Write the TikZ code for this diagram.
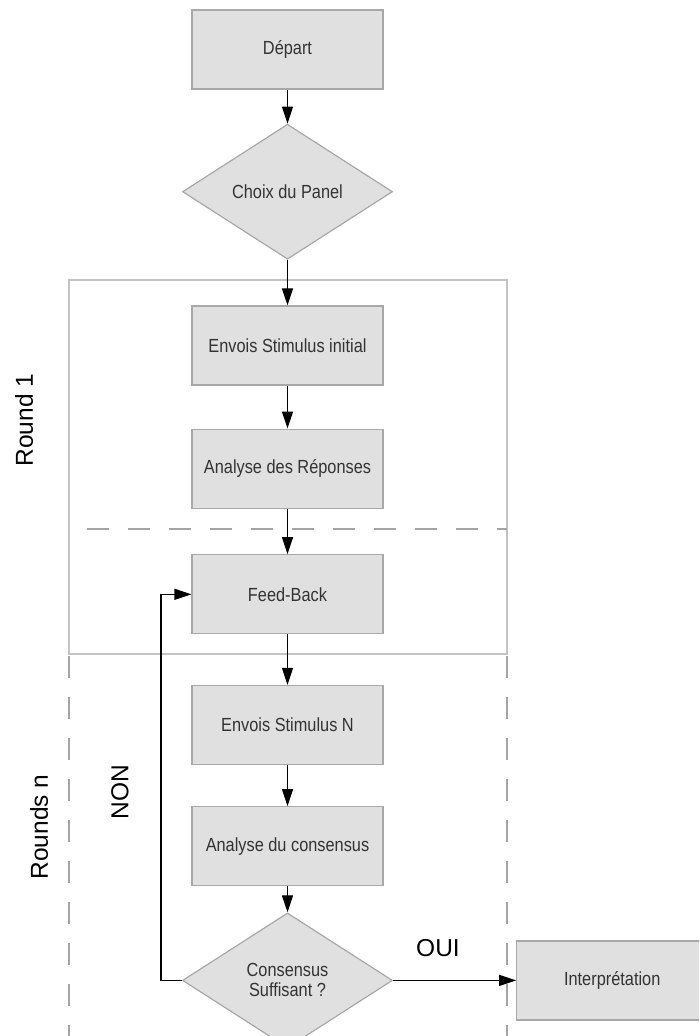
\documentclass[tikz,border=0pt]{standalone}
\usepackage{fontspec}
\setmainfont{Liberation Sans}
\newfontfamily\etroite[FakeStretch=0.86]{Liberation Sans}
\usetikzlibrary{shapes.geometric,positioning,arrows.meta}
\definecolor{fondboite}{HTML}{E0E0E0}
\definecolor{bordboite}{HTML}{A8A8A8}
\definecolor{textboite}{HTML}{333333}
\definecolor{cadre}{HTML}{C4C4C4}
\definecolor{tirets}{HTML}{A4A4A4}

\begin{document}
\begin{tikzpicture}[
		x=1pt,y=-1pt,
		>={Triangle[length=17pt,width=11pt]},
		fleche/.style={->,line width=1.3pt,black},
		boite/.style={
			draw=bordboite,
			line width=1.2pt,
			fill=fondboite,
			rectangle,
			minimum width=191pt,
			minimum height=79pt,
			inner sep=0pt,
			text=textboite,
			font=\etroite\fontsize{19}{20}\selectfont
		},
		losange/.style={boite,diamond,minimum width=210pt,minimum height=135pt,align=center},
		etiquette/.style={font=\fontsize{24.5}{28}\selectfont},
		separation/.style={draw=tirets,line width=1.2pt,dash pattern=on 22pt off 19pt}
		]
		\useasboundingbox (0,0) rectangle (699,1036);
		\clip (0,0) rectangle (699,1036);

		% Cadres des rounds
		\draw[cadre,line width=1.3pt] (69,280) rectangle (507,654);
		\draw[separation] (87,529) -- (507,529);
		\draw[separation] (69,656) -- (69,1040);
		\draw[separation] (507,656) -- (507,1040);

		% Etapes
		\node[boite] (depart) at (287.5,49.5) {Départ};
		\node[losange, below=34pt of depart] (panel) {Choix du Panel};
		\node[boite, below=45.5pt of panel] (envoi1) {Envois Stimulus initial};
		\node[boite, below=43pt of envoi1] (analyse1) {Analyse des Réponses};
		\node[boite, below=45.5pt of analyse1] (feedback) {Feed-Back};
		\node[boite, below=50.5pt of feedback] (envoiN) {Envois Stimulus N};
		\node[boite, below=41pt of envoiN] (analyseN) {Analyse du consensus};
		\node[losange, below=26pt of analyseN] (consensus) {Consensus\\Suffisant ?};
		\node[boite, right=123pt of consensus] (interp) {Interprétation};

		% Etiquettes
		\node[etiquette, rotate=90] (round1) at (24,420) {Round 1};
		\node[etiquette, rotate=90] (roundsn) at (39,827) {Rounds n};
		\node[etiquette, rotate=90] (non) at (120,792) {NON};
		\node[etiquette] (oui) at (438,948) {OUI};

		% Liaisons
		\draw[fleche] (depart) -- (panel);
		\draw[fleche] (panel) -- (envoi1);
		\draw[fleche] (envoi1) -- (analyse1);
		\draw[fleche] (analyse1) -- (feedback);
		\draw[fleche] (feedback) -- (envoiN);
		\draw[fleche] (envoiN) -- (analyseN);
		\draw[fleche] (analyseN) -- (consensus);
		\draw[fleche] (consensus.east) -- (interp.west);
		\draw[fleche] (consensus.west) -- ++(-21,0) |- (feedback.west);
	\end{tikzpicture}
\end{document}
